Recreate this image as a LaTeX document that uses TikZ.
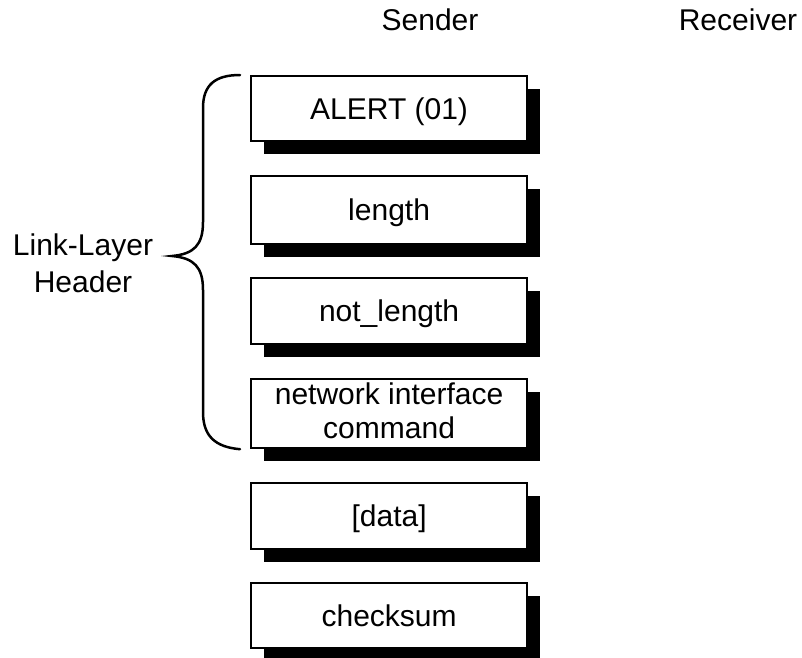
\documentclass[tikz,border=0pt]{standalone}
\usepackage{fontspec}
\setmainfont{Liberation Sans}
\usetikzlibrary{shadows}
\begin{document}
\begin{tikzpicture}[x=1pt,y=-1pt,
  basebox/.style={draw=black, line width=2.2pt, fill=white, minimum width=276pt,
    anchor=north west, inner sep=0pt, font=\fontsize{30}{34}\selectfont,
    drop shadow={shadow xshift=13pt, shadow yshift=-13pt, opacity=1, fill=black}},
  fieldbox/.style={basebox, text height=21.5pt, text depth=0pt},
  twolinebox/.style={basebox, align=center, text height=49pt, text depth=0pt},
  lbl/.style={font=\fontsize{30}{37}\selectfont, inner sep=0pt},
  bracestyle/.style={line width=2.5pt, line cap=round}]
\useasboundingbox (0,0) rectangle (802,657);
\node[lbl, anchor=base] (sender) at (430,30) {Sender};
\node[lbl, anchor=base] (receiver) at (738,30) {Receiver};
\node[fieldbox, minimum height=65pt] (alert) at (250,75) {ALERT (01)};
\node[fieldbox, minimum height=68pt] (len) at (250,175) {length};
\node[fieldbox, minimum height=66pt] (notlen) at (250,277) {not\_length};
\node[twolinebox, minimum height=69pt] (nic) at (250,378) {network interface\\command};
\node[fieldbox, minimum height=66pt] (data) at (250,482) {[data]};
\node[fieldbox, minimum height=65pt] (chk) at (250,582) {checksum};
\node[lbl, align=center] (llh) at (83,263.5) {Link-Layer\\Header};
\coordinate (bt) at ([xshift=-10pt]alert.north west);
\coordinate (bb) at ([xshift=-10pt]nic.south west);
\coordinate (tip) at (172,256);
\draw[bracestyle] (bt) .. controls (215,75) and (203,85) .. (203,108)
  -- (203,222) .. controls (203,245) and (194,254) .. (tip)
  .. controls (194,258) and (203,267) .. (203,290)
  -- (203,412) .. controls (203,436) and (215,447) .. (bb);
\end{tikzpicture}
\end{document}
